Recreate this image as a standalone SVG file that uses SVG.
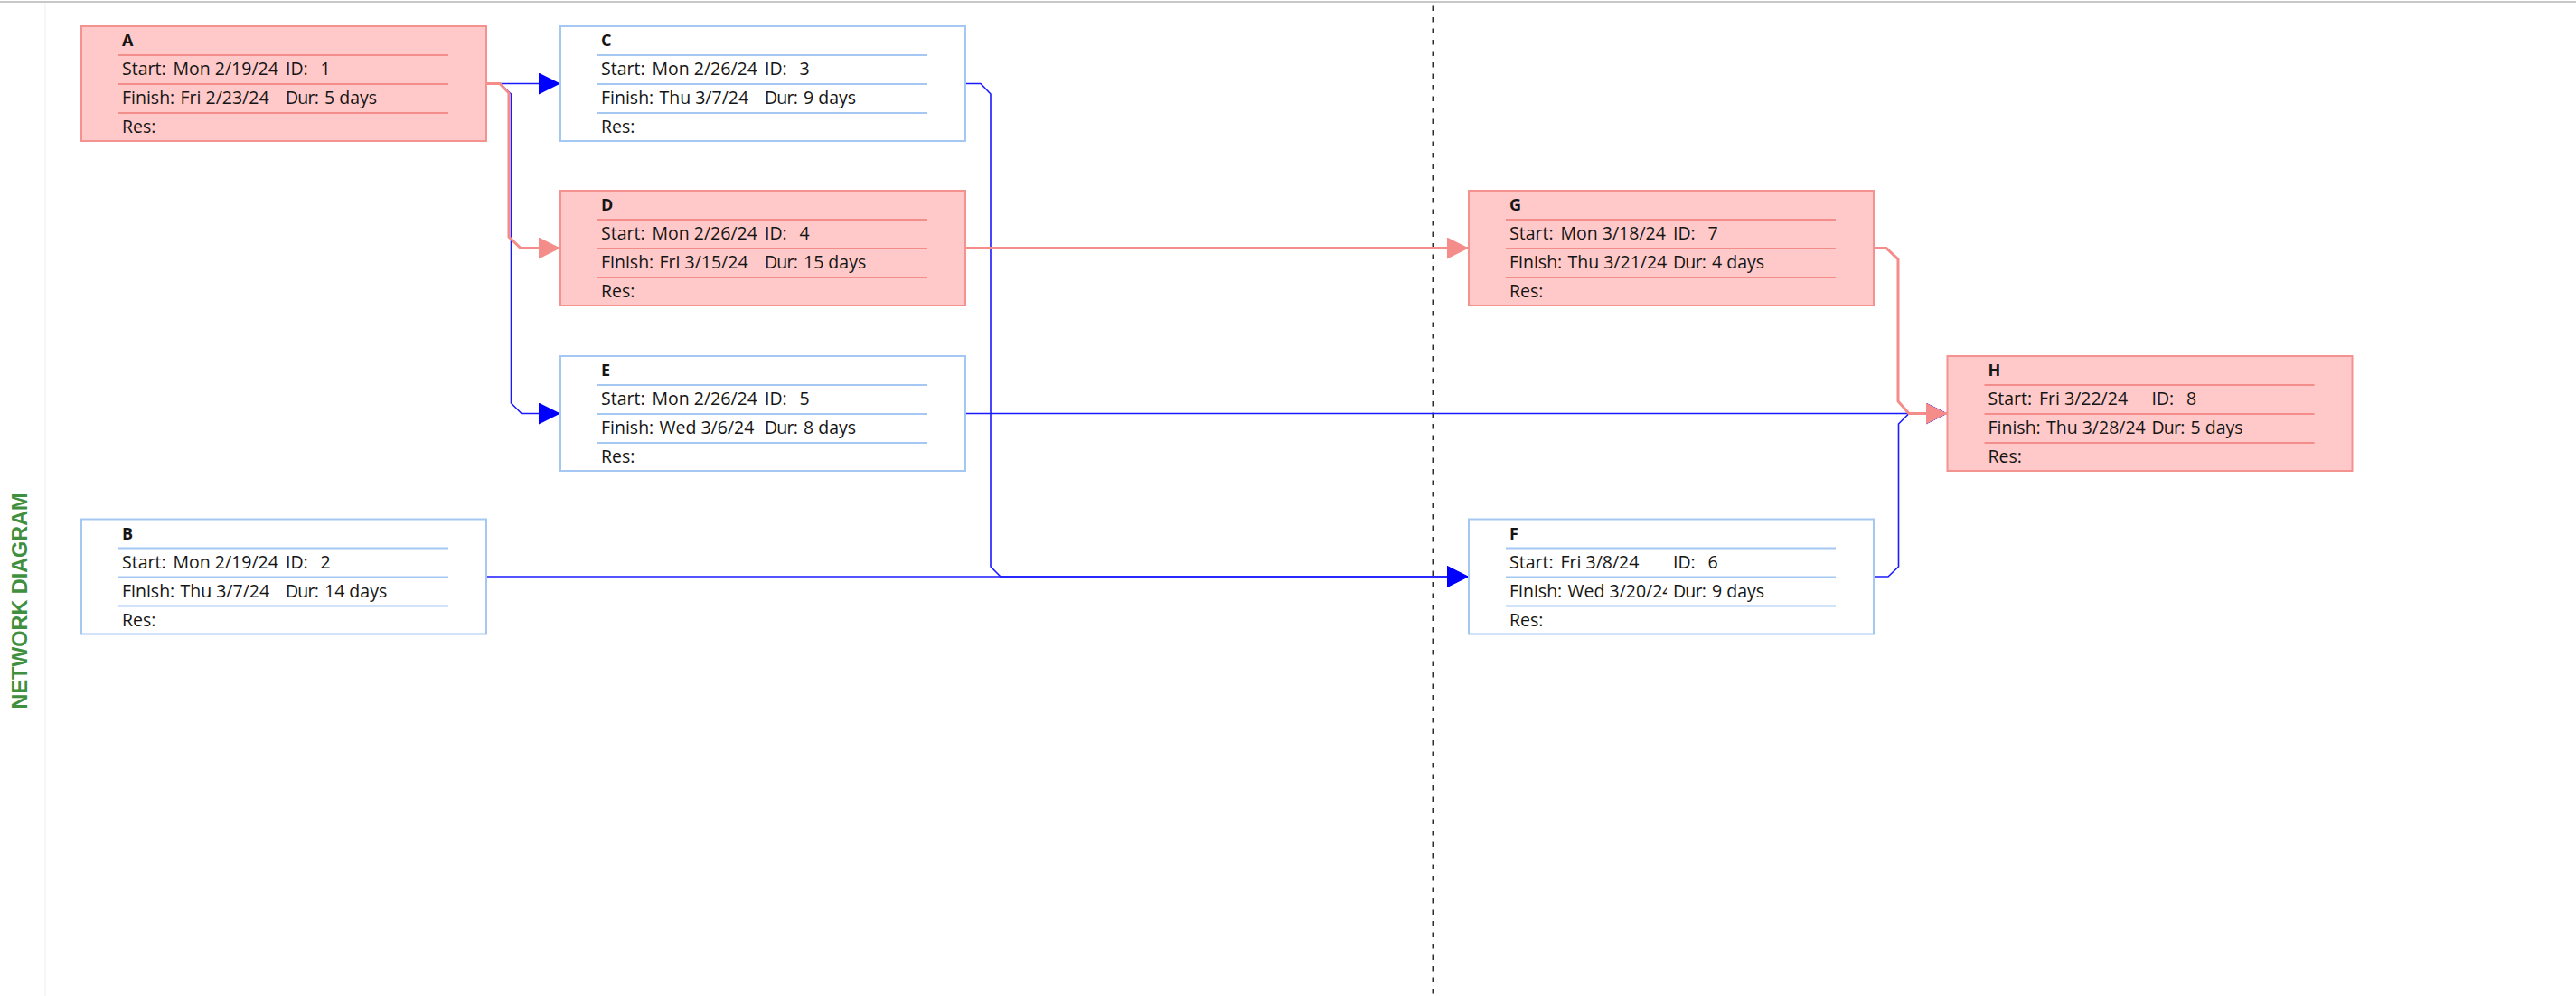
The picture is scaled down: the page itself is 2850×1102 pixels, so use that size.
<svg xmlns="http://www.w3.org/2000/svg" width="2850" height="1102" viewBox="0 0 2850 1102">
  <style>
    .bg { fill: #ffffff; }
    .frame { stroke: #c8c8c8; stroke-width: 2; fill: none; }
    .margin { stroke: #f4f4f4; stroke-width: 1.5; fill: none; }
    .divider-v { stroke: #2e2e2e; stroke-width: 2; stroke-dasharray: 5.5 7; stroke-dashoffset: 9; fill: none; }
    .box-crit { fill: #ffc9c9; stroke: #f4928f; stroke-width: 2; }
    .box-norm { fill: #ffffff; stroke: #a4c8f2; stroke-width: 2; }
    .rule-crit { stroke: #f28d8a; stroke-width: 2; }
    .rule-norm { stroke: #a4c8f2; stroke-width: 2; }
    text { font-family: "Open Sans", "Noto Sans", "Liberation Sans", sans-serif; font-size: 19.5px; fill: #151515; }
    text.title { font-weight: bold; font-size: 18px; }
    text.dur { letter-spacing: -0.8px; }
    text.side { font-family: "Liberation Sans", Arial, sans-serif; font-weight: bold; font-size: 23px; fill: #3f8f3f; }
    .link-norm { fill: none; stroke: #1a1aff; stroke-width: 1.6; }
    .link-crit { fill: none; stroke: #f48c8a; stroke-width: 3; }
  </style>
  <defs>
    <marker id="arrow-norm" markerUnits="userSpaceOnUse" viewBox="0 0 24 24" refX="24" refY="12" markerWidth="24" markerHeight="24" orient="auto">
      <path d="M0,0 L24,12 L0,24 Z" fill="#0000ff"/>
    </marker>
    <marker id="arrow-crit" markerUnits="userSpaceOnUse" viewBox="0 0 24 24" refX="24" refY="12" markerWidth="24" markerHeight="24" orient="auto">
      <path d="M0,0 L24,12 L0,24 Z" fill="#f48c8a"/>
    </marker>
    <!-- left cell of a box row: longer values are cut at the column edge -->
    <clipPath id="cell-left">
      <rect x="0" y="0" width="219" height="127"/>
    </clipPath>
  </defs>

  <rect class="bg" x="0" y="0" width="2850" height="1102"/>
  <line class="frame" x1="0" y1="2" x2="2850" y2="2"/>
  <line class="margin" x1="50" y1="3" x2="50" y2="1102"/>
  <line class="divider-v" x1="1585.5" y1="3" x2="1585.5" y2="1102"/>

  <text class="side" transform="translate(30,665) rotate(-90)" text-anchor="middle" textLength="239" lengthAdjust="spacingAndGlyphs">NETWORK DIAGRAM</text>

  <!-- dependency links -->
  <g id="connectors">
    <path class="link-norm" d="M538,92.5 H620" marker-end="url(#arrow-norm)"/>
    <path class="link-norm" d="M538,92.5 H553 L565.5,104 V446 L577,457.5 H620" marker-end="url(#arrow-norm)"/>
    <path class="link-norm" d="M538,638 H1625" marker-end="url(#arrow-norm)"/>
    <path class="link-norm" d="M1067,92.5 H1085 L1096,104 V627 L1107,638 H1625" marker-end="url(#arrow-norm)"/>
    <path class="link-norm" d="M1067,457.5 H2154.5" marker-end="url(#arrow-norm)"/>
    <path class="link-norm" d="M2072,638 H2089 L2100.5,627 V469 L2112,457.5 H2154.5" marker-end="url(#arrow-norm)"/>
    <path class="link-crit" d="M538,92.5 H553 L563,103 V262 L576,274.5 H620" marker-end="url(#arrow-crit)"/>
    <path class="link-crit" d="M1067,274.5 H1625" marker-end="url(#arrow-crit)"/>
    <path class="link-crit" d="M2072,274.5 H2087 L2100,287 V444 L2112,457.5 H2154.5" marker-end="url(#arrow-crit)"/>
  </g>

  <!-- task boxes -->
  <g id="node-A" transform="translate(90,29)">
    <rect class="box-crit" width="448" height="127"/>
    <line class="rule-crit" x1="41" y1="32" x2="406" y2="32"/>
    <line class="rule-crit" x1="41" y1="64" x2="406" y2="64"/>
    <line class="rule-crit" x1="41" y1="96" x2="406" y2="96"/>
    <text class="title" x="45" y="22">A</text>
    <text x="45" y="54">Start:</text><text x="101.5" y="54">Mon 2/19/24</text>
    <text x="226" y="54">ID:</text><text x="264.5" y="54">1</text>
    <text x="45" y="86">Finish:</text><text x="109.5" y="86">Fri 2/23/24</text>
    <text class="dur" x="226" y="86">Dur:</text><text x="269" y="86">5 days</text>
    <text x="45" y="118">Res:</text>
  </g>

  <g id="node-B" transform="translate(90,574.5)">
    <rect class="box-norm" width="448" height="127"/>
    <line class="rule-norm" x1="41" y1="32" x2="406" y2="32"/>
    <line class="rule-norm" x1="41" y1="64" x2="406" y2="64"/>
    <line class="rule-norm" x1="41" y1="96" x2="406" y2="96"/>
    <text class="title" x="45" y="22">B</text>
    <text x="45" y="54">Start:</text><text x="101.5" y="54">Mon 2/19/24</text>
    <text x="226" y="54">ID:</text><text x="264.5" y="54">2</text>
    <text x="45" y="86">Finish:</text><text x="109.5" y="86">Thu 3/7/24</text>
    <text class="dur" x="226" y="86">Dur:</text><text x="269" y="86">14 days</text>
    <text x="45" y="118">Res:</text>
  </g>

  <g id="node-C" transform="translate(620,29)">
    <rect class="box-norm" width="448" height="127"/>
    <line class="rule-norm" x1="41" y1="32" x2="406" y2="32"/>
    <line class="rule-norm" x1="41" y1="64" x2="406" y2="64"/>
    <line class="rule-norm" x1="41" y1="96" x2="406" y2="96"/>
    <text class="title" x="45" y="22">C</text>
    <text x="45" y="54">Start:</text><text x="101.5" y="54">Mon 2/26/24</text>
    <text x="226" y="54">ID:</text><text x="264.5" y="54">3</text>
    <text x="45" y="86">Finish:</text><text x="109.5" y="86">Thu 3/7/24</text>
    <text class="dur" x="226" y="86">Dur:</text><text x="269" y="86">9 days</text>
    <text x="45" y="118">Res:</text>
  </g>

  <g id="node-D" transform="translate(620,211)">
    <rect class="box-crit" width="448" height="127"/>
    <line class="rule-crit" x1="41" y1="32" x2="406" y2="32"/>
    <line class="rule-crit" x1="41" y1="64" x2="406" y2="64"/>
    <line class="rule-crit" x1="41" y1="96" x2="406" y2="96"/>
    <text class="title" x="45" y="22">D</text>
    <text x="45" y="54">Start:</text><text x="101.5" y="54">Mon 2/26/24</text>
    <text x="226" y="54">ID:</text><text x="264.5" y="54">4</text>
    <text x="45" y="86">Finish:</text><text x="109.5" y="86">Fri 3/15/24</text>
    <text class="dur" x="226" y="86">Dur:</text><text x="269" y="86">15 days</text>
    <text x="45" y="118">Res:</text>
  </g>

  <g id="node-E" transform="translate(620,394)">
    <rect class="box-norm" width="448" height="127"/>
    <line class="rule-norm" x1="41" y1="32" x2="406" y2="32"/>
    <line class="rule-norm" x1="41" y1="64" x2="406" y2="64"/>
    <line class="rule-norm" x1="41" y1="96" x2="406" y2="96"/>
    <text class="title" x="45" y="22">E</text>
    <text x="45" y="54">Start:</text><text x="101.5" y="54">Mon 2/26/24</text>
    <text x="226" y="54">ID:</text><text x="264.5" y="54">5</text>
    <text x="45" y="86">Finish:</text><text x="109.5" y="86">Wed 3/6/24</text>
    <text class="dur" x="226" y="86">Dur:</text><text x="269" y="86">8 days</text>
    <text x="45" y="118">Res:</text>
  </g>

  <g id="node-F" transform="translate(1625,574.5)">
    <rect class="box-norm" width="448" height="127"/>
    <line class="rule-norm" x1="41" y1="32" x2="406" y2="32"/>
    <line class="rule-norm" x1="41" y1="64" x2="406" y2="64"/>
    <line class="rule-norm" x1="41" y1="96" x2="406" y2="96"/>
    <text class="title" x="45" y="22">F</text>
    <text x="45" y="54">Start:</text><text x="101.5" y="54">Fri 3/8/24</text>
    <text x="226" y="54">ID:</text><text x="264.5" y="54">6</text>
    <text x="45" y="86">Finish:</text><text x="109.5" y="86" clip-path="url(#cell-left)">Wed 3/20/24</text>
    <text class="dur" x="226" y="86">Dur:</text><text x="269" y="86">9 days</text>
    <text x="45" y="118">Res:</text>
  </g>

  <g id="node-G" transform="translate(1625,211)">
    <rect class="box-crit" width="448" height="127"/>
    <line class="rule-crit" x1="41" y1="32" x2="406" y2="32"/>
    <line class="rule-crit" x1="41" y1="64" x2="406" y2="64"/>
    <line class="rule-crit" x1="41" y1="96" x2="406" y2="96"/>
    <text class="title" x="45" y="22">G</text>
    <text x="45" y="54">Start:</text><text x="101.5" y="54">Mon 3/18/24</text>
    <text x="226" y="54">ID:</text><text x="264.5" y="54">7</text>
    <text x="45" y="86">Finish:</text><text x="109.5" y="86">Thu 3/21/24</text>
    <text class="dur" x="226" y="86">Dur:</text><text x="269" y="86">4 days</text>
    <text x="45" y="118">Res:</text>
  </g>

  <g id="node-H" transform="translate(2154.5,394)">
    <rect class="box-crit" width="448" height="127"/>
    <line class="rule-crit" x1="41" y1="32" x2="406" y2="32"/>
    <line class="rule-crit" x1="41" y1="64" x2="406" y2="64"/>
    <line class="rule-crit" x1="41" y1="96" x2="406" y2="96"/>
    <text class="title" x="45" y="22">H</text>
    <text x="45" y="54">Start:</text><text x="101.5" y="54">Fri 3/22/24</text>
    <text x="226" y="54">ID:</text><text x="264.5" y="54">8</text>
    <text x="45" y="86">Finish:</text><text x="109.5" y="86">Thu 3/28/24</text>
    <text class="dur" x="226" y="86">Dur:</text><text x="269" y="86">5 days</text>
    <text x="45" y="118">Res:</text>
  </g>
</svg>
